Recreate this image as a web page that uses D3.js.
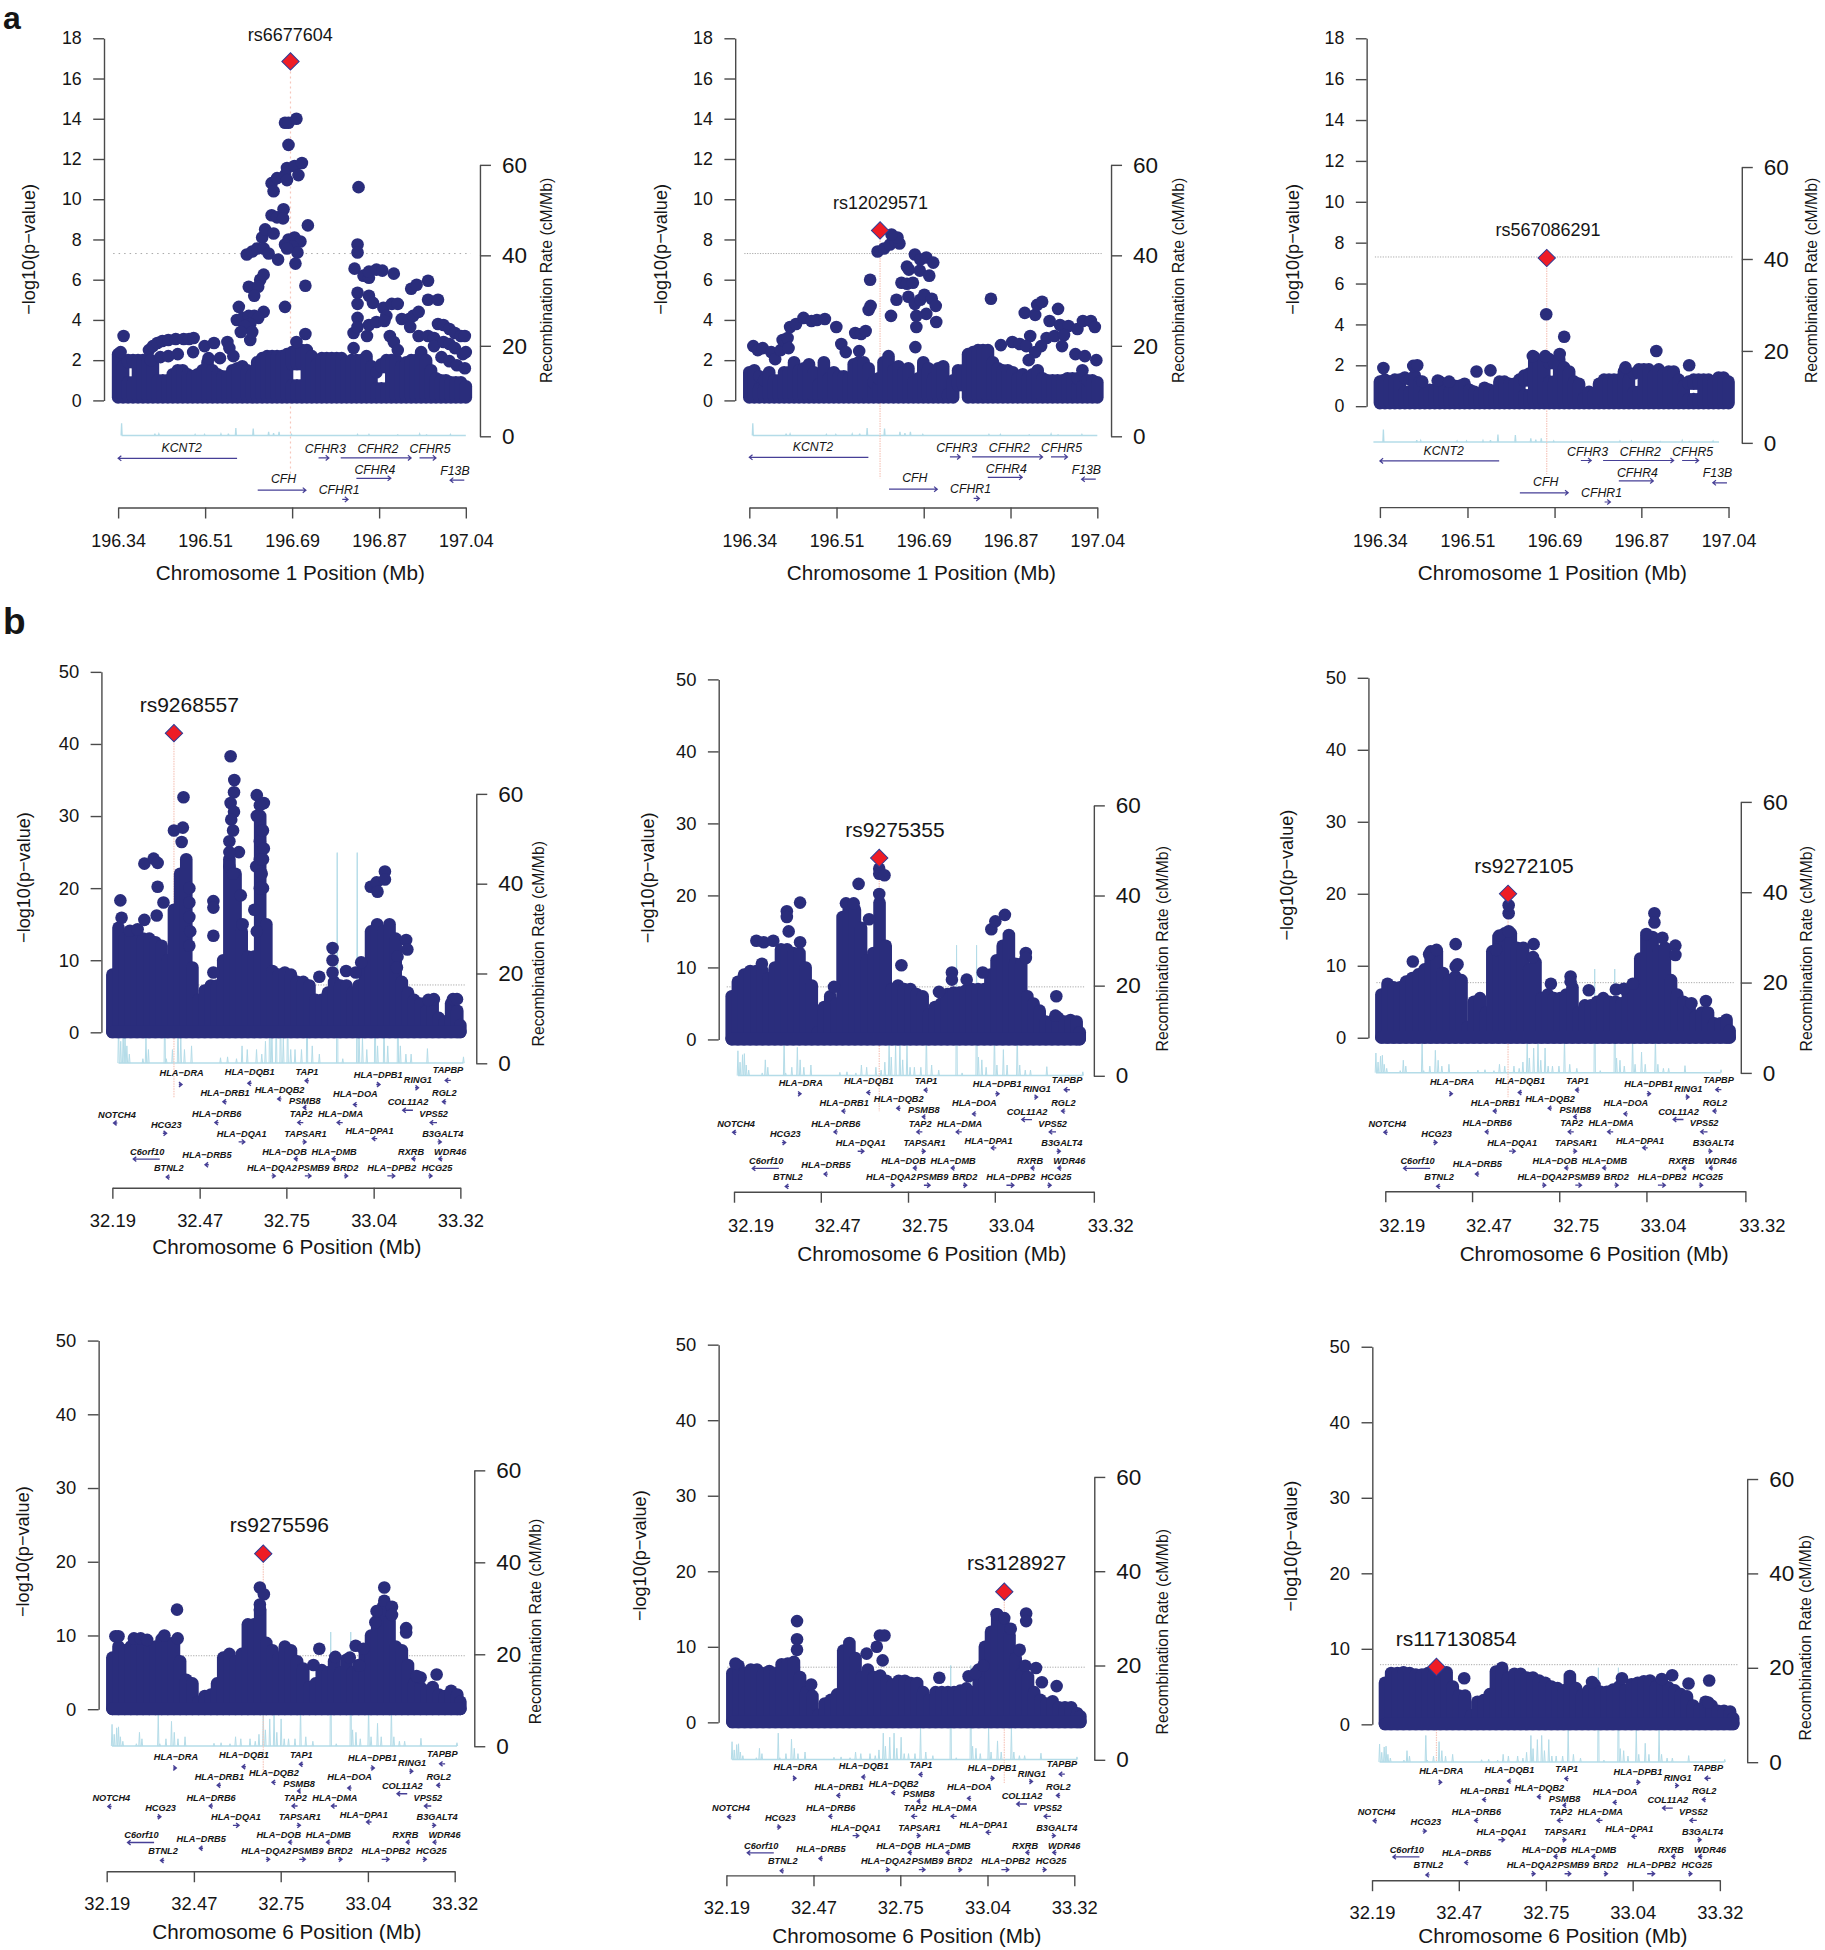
<!DOCTYPE html>
<html><head><meta charset="utf-8">
<script src="https://d3js.org/d3.v7.min.js"></script>
<style>html,body{margin:0;background:#fff}svg{display:block}text{font-family:"Liberation Sans",Arial,sans-serif;fill:#151515}</style>
</head><body><div id="c"></div>
<script>
// ---------- categorical / tick data ----------
const tickMbA=[196.34,196.51,196.69,196.87,197.04];
const tickMbB=[32.19,32.47,32.75,33.04,33.32];
const tickLogPA=[0,2,4,6,8,10,12,14,16,18];
const tickLogPB=[0,10,20,30,40,50];
const tickRecomb=[0,20,40,60];

// ---------- grid of genome positions where the solid band was read ----------
const gridA=[196.34,196.35,196.36,196.37,196.38,196.39,196.40,196.41,196.42,196.43,196.44,196.45,196.46,196.47,196.48,196.49,196.50,196.51,196.52,196.53,196.54,196.55,196.56,196.57,196.58,196.59,196.60,196.61,196.62,196.63,196.64,196.65,196.66,196.67,196.68,196.69,196.70,196.71,196.72,196.73,196.74,196.75,196.76,196.77,196.78,196.79,196.80,196.81,196.82,196.83,196.84,196.85,196.86,196.87,196.88,196.89,196.90,196.91,196.92,196.93,196.94,196.95,196.96,196.97,196.98,196.99,197.00,197.01,197.02,197.03,197.04];
const gridB=[32.19,32.21,32.23,32.25,32.27,32.29,32.31,32.33,32.35,32.37,32.39,32.41,32.43,32.45,32.47,32.49,32.51,32.53,32.55,32.57,32.59,32.61,32.63,32.65,32.67,32.69,32.71,32.73,32.75,32.77,32.79,32.81,32.83,32.85,32.87,32.89,32.91,32.93,32.95,32.97,32.99,33.01,33.03,33.05,33.07,33.09,33.11,33.13,33.15,33.17,33.19,33.21,33.23,33.25,33.27,33.29,33.31,33.32];

// ---------- top of the solid band per panel (-log10 p) ----------
const bandA1=[2.3,1.7,2,2,2,2,2,1.8,1,1,1,1.3,1.5,1.5,1.3,1.2,1.3,1.5,1.9,1.5,1.3,1.2,1.2,1.5,1.6,1.7,1.5,1.3,1.9,2.1,2.2,2.2,2.2,2.2,2.3,2.4,2.5,2.5,2.5,2.2,1.8,2.1,2.1,2.1,2.1,2.1,1.9,2,2,2,2.2,1.7,1.4,1.8,2,2,2,1.7,1.9,2,2,2.4,2,1.5,1.1,1,1,.9,.9,.9,.7];
const bandA2=[1.4,1.5,1.2,1,1.4,1,1,1.4,1.4,1.9,1.5,1.6,1.8,1.4,.8,1.9,1.1,1.4,1.2,1.2,1.1,1.8,1.9,1.9,1.6,.9,1.1,1.9,2.2,1.5,1.7,1.4,1.6,.9,1.1,1.9,1.6,1.1,1.6,1.7,.3,1,1.5,1.5,2.3,2.4,2.5,2.5,2.5,1.9,1.6,1.5,1.5,1.4,1.1,1.3,1.1,1.3,1.5,1.1,1,1,1,1,1.1,1.1,1.1,1.5,1,1,.9];
const bandA3=[1.2,1.3,1.2,1.3,1.3,1.4,1.3,1.5,1.2,.6,.8,.8,1.2,1,.7,1,1,1.1,.8,.7,.6,.9,.8,.6,1.2,1.2,1.1,1.1,1.3,1.5,1.6,2.4,2.2,2.3,2.3,2.2,2.3,1.9,1.7,1.2,1.1,.4,.7,.6,1.1,1.3,1.3,1.3,1.3,1.7,1.3,1.6,1.8,1.8,1.8,1.5,1.8,1.6,1.7,1.7,1.3,1,1.2,1.3,1.3,1.3,1.3,1.2,1.4,1.4,1.2];
const bandB1=[8,14.5,13,13.5,13.5,13,13,12.5,12,10,17,22,24,9,4.5,5.8,6.5,6.5,10,24,22,14,10.5,10.5,30,15,8.5,8,8.3,8,7,7,6.5,4.5,4.5,5.5,7,6.5,6.5,5.5,6.5,9,14,15,14,15,13,7,5.5,4.5,4,3,4,2,1.5,4,3,1];
const bandB2=[6,8,9,9.5,9.5,9.5,8.5,10,12.5,12.5,12,12,10,7.5,1,4.5,6,5,17,18,18,15.5,11,12,19,13,7,7.5,7,7,6.3,6,3.5,4.5,5,6.3,6.5,6.5,6.8,7,7,7,9,11,13,14.5,10.5,10.5,6,5,4,2.5,2.5,3,2.5,2.7,2.5,1];
const bandB3=[6,7.5,7,7,7.8,8.3,8.8,9.5,12,12,9,8,8.5,8,1.5,5,5.5,3.5,12,14,14.5,14.5,12.5,12.5,9.5,10.5,5.5,6,5.5,5.5,6,7,3.5,4.5,4.5,5,5.5,5,5,4.8,6,7,11,14,14,12,12.5,8,6,5,4,3,3.5,3.5,2,2,2.5,1];
const bandB4=[7,8.5,8,8.5,8.5,8.5,8.5,8.5,9.5,9,9,6.5,4,3.5,1,1.8,2,3.5,7,7.5,6.5,7.5,11.5,11.5,13.5,9,8,7,8.5,8,6.5,5.5,3,3.5,5.3,5,6.5,5,6.7,5,6,7.5,10,12,14,12,8.5,8,6,3.5,3,2.5,3,2,1.8,2.5,2,1];
const bandB5=[6.5,7.5,6.5,7,7,6.5,6.8,6.5,7.7,7.8,8,6,4,3.5,1,2.5,3,3.7,9.5,10.5,8.5,6,7,6,6.2,5.5,5,5.5,5.5,5.2,5.2,4,3,4,4,4,4,4.2,4.5,4,7,10,12,14.3,13.5,11.5,8.5,6.5,6,4,3,2.5,2.8,2,2,2,1.2,.8];
const bandB6=[5.5,6.8,6.8,6.9,6.8,6.6,6.6,6.8,6.9,7,6.9,5,3.8,3.8,1.2,3,3.2,4,7,7.5,6.2,6.7,6.7,6.2,6.2,5.8,5.5,5,4.8,4.5,6.4,4.8,3.9,4.5,5.2,4.3,4.3,4.6,5,4.5,5.3,5.5,5.7,5.8,5,5.5,4.9,4.5,4,3.7,2.5,2,3,2.5,1.8,1.8,1.7,.8];

// ---------- white gaps in the band [fromMb, toMb, lowLogP, highLogP] ----------
const gapsA1=[[196.36,196.37,.9,1.9],[196.69,196.71,.75,1.8],[196.86,196.88,.6,1.65]];
const gapsA2=[[196.36,196.37,.6,1.2],[196.59,196.6,.75,1.55],[196.76,196.77,-1,.75],[197,197.02,.7,1.5]];
const gapsA3=[[196.39,196.4,.7,1.4],[196.63,196.64,.55,1.25],[196.68,196.69,1.2,2.1],[196.85,196.86,.7,1.65],[196.96,196.98,.35,1.1]];

// ---------- individually visible SNPs [Mb, -log10 p] ----------
const snpsA1=[[196.351,3.2],[196.345,2.4],[196.402,2.5],[196.41,2.7],[196.419,2.85],[196.429,2.95],[196.441,3],[196.456,3.05],[196.472,3.05],[196.483,3.05],[196.492,3.1],[196.406,2],[196.425,2.15],[196.441,2.2],[196.46,2.3],[196.491,2.4],[196.514,2.7],[196.533,2.85],[196.56,2.9],[196.564,2.6],[196.572,2.2],[196.545,2.1],[196.522,2.1],[196.583,4.65],[196.606,3],[196.579,4],[196.591,4.1],[196.603,4.2],[196.614,4.2],[196.633,4.4],[196.622,4.1],[196.606,3.8],[196.595,3.7],[196.61,3.4],[196.587,3.4],[196.599,7.25],[196.61,7.4],[196.62,7.55],[196.63,8.1],[196.636,8.5],[196.653,8.3],[196.633,7.55],[196.643,7.3],[196.662,7],[196.603,5.65],[196.626,6],[196.633,6.25],[196.622,5.65],[196.614,5.2],[196.676,4.65],[196.649,10.8],[196.66,11.05],[196.676,11.2],[196.68,11.55],[196.695,11.65],[196.71,11.8],[196.703,11.2],[196.653,10.4],[196.68,10.95],[196.676,13.8],[196.683,13.8],[196.699,14],[196.683,12.7],[196.649,9.2],[196.66,9.1],[196.673,9.5],[196.672,9.05],[196.722,8.7],[196.683,8],[196.695,8.1],[196.707,7.9],[196.676,7.75],[196.691,7.65],[196.701,7.35],[196.68,7.55],[196.697,6.8],[196.717,5.7],[196.717,3.3],[196.699,2.9],[196.824,10.6],[196.822,7.75],[196.822,7.35],[196.816,6.55],[196.834,6.2],[196.845,6.1],[196.845,6.4],[196.86,6.5],[196.872,6.45],[196.895,6.3],[196.822,5.35],[196.822,4.8],[196.845,5.2],[196.853,4.85],[196.874,4.6],[196.891,4.8],[196.903,4.8],[196.88,4.2],[196.822,4.1],[196.814,3.35],[196.822,3.65],[196.814,2.6],[196.841,3.2],[196.845,3.75],[196.86,3.9],[196.876,3.95],[196.887,3.2],[196.895,2.9],[196.903,2.5],[196.911,4.05],[196.926,4.05],[196.934,4.2],[196.945,4.4],[196.928,3.65],[196.93,5.55],[196.941,5.75],[196.964,5.95],[196.964,5],[196.984,5],[196.945,3.2],[196.964,3.2],[196.976,3.1],[196.984,3.8],[196.995,3.75],[197.007,3.55],[197.018,3.35],[197.03,3.2],[197.038,3.2],[196.976,2.7],[196.995,2.9],[197.007,2.8],[197.018,2.6],[197.034,2.3],[197.04,2.4],[196.991,2.15],[197.007,1.95],[197.022,1.75],[197.038,1.6]];
const snpsA2=[[196.348,2.7],[196.357,2.5],[196.367,2.6],[196.384,2.4],[196.392,2.05],[196.403,2.5],[196.407,3],[196.417,3.1],[196.419,2.6],[196.422,3.65],[196.434,3.8],[196.449,4.1],[196.465,3.95],[196.476,4],[196.492,4.05],[196.515,3.65],[196.525,2.8],[196.534,2.4],[196.561,2.45],[196.553,3.35],[196.565,3.3],[196.574,3.45],[196.58,4.5],[196.584,4.7],[196.583,6],[196.598,7.4],[196.611,7.55],[196.623,7.75],[196.634,7.9],[196.642,7.8],[196.638,8.1],[196.626,8.25],[196.625,4.2],[196.636,5],[196.657,6.65],[196.661,6.5],[196.673,7.25],[196.684,7],[196.696,7.1],[196.71,6.85],[196.683,6.45],[196.702,6.2],[196.646,5.85],[196.657,5.8],[196.669,5.85],[196.66,5.15],[196.673,4.8],[196.684,5],[196.692,5.25],[196.707,5.05],[196.715,4.7],[196.696,4.3],[196.676,4.2],[196.716,3.9],[196.676,3.65],[196.674,2.65],[196.826,5.05],[196.894,4.35],[196.915,4.25],[196.919,4.75],[196.929,4.9],[196.961,4.55],[196.944,3.95],[196.965,3.75],[196.982,3.7],[197,3.55],[197.011,3.95],[197.027,3.95],[197.035,3.65],[196.905,3.2],[196.938,3.1],[196.954,3.2],[196.973,3.25],[196.969,2.7],[196.869,2.9],[196.884,2.8],[196.897,2.7],[196.927,2.7],[196.915,2.4],[196.902,2],[196.846,2.75],[196.996,2.3],[197.015,2.2],[197.038,2]];
const snpsA3=[[196.674,4.5],[196.71,3.4],[196.895,2.7],[196.347,1.87],[196.407,1.97],[196.415,2],[196.425,1.2],[196.456,1.25],[196.479,1.2],[196.534,1.7],[196.562,1.75],[196.961,2],[196.647,2.45],[196.672,2.45],[196.701,2.55],[196.833,1.9]];
const snpsB1=[[32.216,18.3],[32.22,15.9],[32.294,23.4],[32.324,24.1],[32.337,23.5],[32.337,20.2],[32.294,15.6],[32.334,16.2],[32.356,18],[32.39,28],[32.419,28.4],[32.421,32.6],[32.415,26.4],[32.44,20],[32.44,18],[32.44,16],[32.443,14],[32.44,12],[32.247,14.1],[32.272,14.3],[32.518,18.2],[32.518,17.3],[32.518,13.4],[32.518,8.3],[32.574,38.3],[32.586,35],[32.585,33.3],[32.574,31.8],[32.585,30.6],[32.576,29.5],[32.582,28],[32.57,26.5],[32.601,25],[32.57,25],[32.57,23],[32.582,22],[32.607,19],[32.613,15],[32.659,32.9],[32.682,31.8],[32.669,31.5],[32.659,30],[32.675,28],[32.669,26.5],[32.682,25.5],[32.657,23],[32.669,24],[32.675,22],[32.679,28],[32.679,24],[32.679,20],[32.669,20],[32.651,17],[32.659,14],[32.905,11.7],[32.905,10],[32.905,8.3],[32.862,7.7],[32.949,8.5],[32.98,8.3],[32.998,9.7],[33.029,20.2],[33.048,20.8],[33.051,19.5],[33.075,22.3],[33.075,21.2],[33.144,12.8],[33.148,11.5],[33.116,10.5],[33.114,9],[33.234,4.6],[33.216,4.5],[33.296,4.6],[33.309,4.6]];
const snpsB2=[[32.27,13.7],[32.294,13.5],[32.288,10.5],[32.325,13.7],[32.369,17.8],[32.369,17],[32.375,15],[32.412,19],[32.412,13.5],[32.522,7.3],[32.561,18.9],[32.586,18.9],[32.602,21.6],[32.636,16.7],[32.669,23.7],[32.669,23],[32.686,22.8],[32.669,20.2],[32.741,10.3],[32.863,6.6],[32.905,9.3],[32.905,8.3],[32.953,8.3],[33.005,9.3],[33.033,15.3],[33.046,16.4],[33.077,17.3],[33.145,12],[33.145,11.3],[33.244,6],[33.241,3.3]];
const snpsB3=[[32.292,10.6],[32.345,11.6],[32.369,12.2],[32.431,9.9],[32.437,10.2],[32.431,13],[32.562,12.2],[32.573,14.2],[32.603,14.8],[32.603,17.3],[32.603,18.4],[32.684,13],[32.682,11.2],[32.74,7.5],[32.804,8.5],[32.804,7.8],[32.863,6.6],[32.951,6.7],[32.977,6.8],[33.006,7.5],[33.05,14.4],[33.076,17.3],[33.076,16],[33.102,13.9],[33.144,12.8],[33.144,11.5],[33.196,4.8],[33.243,5.1]];
const snpsB4=[[32.2,9.9],[32.21,9.9],[32.26,9.6],[32.282,9.6],[32.303,9.4],[32.359,10],[32.4,13.5],[32.402,9.6],[32.669,16.5],[32.682,15.6],[32.669,14.2],[32.669,13.5],[32.843,6],[32.862,8.2],[32.914,7.1],[32.961,7],[32.98,8.6],[32.992,5.9],[33.005,8.2],[33.044,11.8],[33.048,13.3],[33.073,16.5],[33.073,14.7],[33.098,13.9],[33.098,12.8],[33.144,11],[33.144,10.4],[33.191,4.3],[33.178,4.5],[33.243,4.7]];
const snpsB5=[[32.2,7.8],[32.4,13.4],[32.4,11],[32.4,9.6],[32.446,5],[32.626,9.1],[32.659,10],[32.669,11.5],[32.684,11.5],[32.678,8.2],[32.862,5.9],[32.957,6.1],[32.98,6.5],[33.005,7.5],[33.048,14.3],[33.073,13.8],[33.094,12.4],[33.123,9.6],[33.141,7.5],[33.144,14.4],[33.144,13.4],[33.176,7.2],[33.195,5.3],[33.243,4.8]];
const snpsB6=[[32.447,6.1],[32.862,5.6],[32.959,6.1],[33.122,6.5],[33.088,6],[33.175,5.4],[33.242,5.8],[33.239,2.9]];

// ---------- lead SNPs ----------
const leadNames=["rs6677604","rs12029571","rs567086291","rs9268557","rs9275355","rs9272105","rs9275596","rs3128927","rs117130854"];
const leadMb=[196.687,196.603,196.675,32.39,32.669,32.601,32.68,33.073,32.357];
const leadLogP=[16.85,8.45,7.25,41.5,25.2,20,21.1,17.3,7.6];
const thresholdLogP=[7.3,7.3,7.3,6.57,7.3,7.65,7.25,7.3,7.9];

// ---------- recombination spikes ----------
const recombPosA=[196.347,196.414,196.422,196.495,196.514,196.547,196.562,196.577,196.612,196.643,196.653,196.664,196.689,196.822,196.845,196.903,196.947,196.961,197.009];
const recombRateA=[2.9,.6,.5,.4,.4,.5,.6,1.8,1.7,1,.7,1,.4,.4,.4,.3,.5,.3,.4];
const recombPosB=[32.19,32.197,32.205,32.211,32.217,32.225,32.269,32.279,32.287,32.34,32.345,32.365,32.383,32.392,32.404,32.427,32.521,32.544,32.573,32.591,32.608,32.638,32.655,32.667,32.681,32.688,32.702,32.716,32.725,32.739,32.749,32.763,32.784,32.802,32.819,32.842,32.9,32.918,32.965,32.971,32.982,32.996,33.023,33.031,33.052,33.064,33.097,33.105,33.123,33.14,33.193,33.31];
const recombRateB=[4.4,2.4,3.7,3.9,1.9,1,.5,2.8,1.5,6.5,.5,1.5,5,2.8,1.5,1.9,.6,.7,.5,1.9,1.5,1.5,1,2.4,6.5,3.3,5.5,6.5,2.8,5.5,1.5,1.5,1.5,8,1.9,1,23,.5,23,3.3,2.8,1.5,8,1.9,4.6,1.9,8,1.9,1,1,1.6,.7];

// ---------- genes ----------
const geneNamesA=["KCNT2","CFHR3","CFHR2","CFHR5","CFHR4","F13B","CFH","CFHR1"];
const geneFromA=[196.5795,196.7435,196.7881,196.9468,196.8197,197.0369,196.621,196.7912];
const geneToA=[196.34,196.7643,196.9298,196.9799,196.889,197.0084,196.7181,196.8028];
const geneLabelMbA=[196.468,196.757,196.863,196.968,196.857,197.018,196.673,196.785];
const geneNamesB=["HLA−DRA","HLA−DQB1","TAP1","HLA−DPB1","TAPBP","RING1","HLA−DRB1","HLA−DQB2","PSMB8","HLA−DOA","RGL2","COL11A2","NOTCH4","HLA−DRB6","TAP2","HLA−DMA","VPS52","HCG23","HLA−DPA1","HLA−DQA1","TAPSAR1","B3GALT4","C6orf10","HLA−DOB","HLA−DMB","RXRB","WDR46","HLA−DRB5","BTNL2","HLA−DQA2","PSMB9","BRD2","HLA−DPB2","HCG25"];
const geneFromB=[32.406,32.642,32.828,33.047,33.289,33.173,32.561,32.739,32.82,32.985,33.274,33.166,32.206,32.535,32.81,32.938,33.244,32.354,33.05,32.6,32.807,33.246,32.344,32.793,32.916,33.175,33.262,32.503,32.377,32.707,32.815,32.942,33.083,33.216];
const geneToB=[32.416,32.63,32.816,33.059,33.271,33.184,32.549,32.727,32.81,32.973,33.262,33.133,32.194,32.523,32.792,32.92,33.222,32.366,33.034,32.62,32.819,33.258,32.258,32.781,32.904,33.163,33.25,32.491,32.365,32.719,32.835,32.954,33.107,33.228];
const geneLabelMbB=[32.415,32.636,32.822,33.053,33.28,33.182,32.556,32.733,32.815,32.979,33.268,33.15,32.205,32.529,32.803,32.931,33.233,32.365,33.025,32.61,32.817,33.263,32.303,32.749,32.91,33.16,33.287,32.497,32.373,32.708,32.843,32.948,33.097,33.244];

// ---------- layout only (pixels) ----------
const laneLabelA=[-59.6,-58.5,-58.5,-58.5,-37.7,-36.9,-28.5,-17.3];
const laneArrowA=[-49.2,-49.6,-49.6,-49.6,-29.2,-27.3,-17.3,-8.1];
const laneLabelB=[-114.8,-116,-116.4,-113.5,-117.6,-108.2,-94.7,-98,-87.3,-94.3,-94.7,-85.7,-73.4,-73.8,-73.8,-73.8,-73.8,-63.5,-56.6,-54.1,-54.1,-54.1,-36.1,-36.1,-36.1,-36.1,-36.1,-32.8,-20.5,-20.5,-20.5,-20.5,-20.5,-20.5];
const laneArrowB=[-103.3,-104.5,-107,-103.3,-107.4,-100,-86,-88.9,-80.3,-83.2,-86,-77.5,-64.8,-65.2,-65.2,-65.2,-65.2,-54.5,-49.2,-45.9,-45.9,-45.9,-28.7,-29.1,-29.1,-29.1,-29.1,-23,-10.7,-11.9,-11.9,-11.9,-11.9,-11.9];

const panels=[
 {k:"A",crop:[0,0,.9943,.9943],band:bandA1,gaps:gapsA1,snps:snpsA1,i:0,plot:[118.8,468.5],ticks:[118.8,206.3,293.8,381.3,468.5],yAxisX:104.6,yTop:38.5,y0:402.7,xAxisY:510.4,tickLabelY:544,titleX:292,titleY:576,chr:1,recX:482.7,rec60:165.8,rec0:438.8,leftX:28.8,leftY:250.8,rightX:549.2,rightY:282,snpX:292,snpY:34.6,vEnd:477,geneDx:0,geneDy:0,recDx:0,gain:1,labelDx:0,recSpan:[196.347,197.04]},
 {k:"A",crop:[630,0,.9943,.9943],band:bandA2,gaps:gapsA2,snps:snpsA2,i:1,plot:[750,1100],ticks:[750,837.7,925.4,1012.7,1100],yAxisX:735.8,yTop:38.5,y0:402.7,xAxisY:510.4,tickLabelY:544,titleX:923,titleY:576,chr:1,recX:1113.8,rec60:165.8,rec0:438.8,leftX:660.8,leftY:250.8,rightX:1182,rightY:282,snpX:882,snpY:203.8,vEnd:481,geneDx:0,geneDy:-1,recDx:0,gain:1,labelDx:0,recSpan:[196.347,197.04]},
 {k:"A",crop:[1260,0,.9975,.9943],band:bandA3,gaps:gapsA3,snps:snpsA3,i:2,plot:[1380.2,1729.7],ticks:[1380.2,1468,1555.3,1642.3,1729.7],yAxisX:1366.9,yTop:38.5,y0:408.5,xAxisY:510,tickLabelY:544,titleX:1553,titleY:576,chr:1,recX:1743,rec60:168,rec0:445.4,leftX:1292.5,leftY:250.8,rightX:1812.4,rightY:282,snpX:1548.8,snpY:231.5,vEnd:477,geneDx:0,geneDy:3,recDx:0,gain:1,labelDx:0,recSpan:[196.327,197.021]},
 {k:"B",crop:[0,640,.9943,.996],band:bandB1,gaps:[],snps:snpsB1,i:3,plot:[113,463],ticks:[113,200.8,288,375.8,463],yAxisX:102,yTop:672,y0:1033.9,xAxisY:1190,tickLabelY:1223,titleX:288.5,titleY:1249.4,chr:6,recX:479,rec60:794.5,rec0:1065,leftX:24,leftY:878.5,rightX:541.5,rightY:945,snpX:190.4,snpY:704.8,vEnd:1099,geneDx:0,geneDy:0,recDx:6.2,gain:2.04,labelDx:0,recSpan:[32.19,33.31]},
 {k:"B",crop:[630,650,.9943,.996],band:bandB2,gaps:[],snps:snpsB2,i:4,plot:[732.3,1082.3],ticks:[734.6,821.9,909.6,996.9,1096.5],yAxisX:719.2,yTop:679.5,y0:1041,xAxisY:1193.9,tickLabelY:1227.9,titleX:933.5,titleY:1256.6,chr:6,recX:1096.5,rec60:806,rec0:1077.5,leftX:647.3,leftY:878.7,rightX:1165.8,rightY:950,snpX:896.5,snpY:830.3,vEnd:1113,geneDx:-.3,geneDy:5.4,recDx:6.2,gain:1.26,labelDx:16.5,recSpan:[32.19,33.31]},
 {k:"B",crop:[1260,650,.9975,.996],band:bandB3,gaps:[],snps:snpsB3,i:5,plot:[1381.7,1730.8],ticks:[1385.6,1472.6,1560,1647.4,1746.6],yAxisX:1368.7,yTop:677.9,y0:1039.3,xAxisY:1193.4,tickLabelY:1228,titleX:1595,titleY:1256.6,chr:6,recX:1742,rec60:802.5,rec0:1074.6,leftX:1287,leftY:876,rightX:1808,rightY:950,snpX:1524.6,snpY:866.4,vEnd:1099,geneDx:1.3,geneDy:5.8,recDx:-5.5,gain:1,labelDx:16.5,recSpan:[32.19,33.31]},
 {k:"B",crop:[0,1310,.9943,.996],band:bandB4,gaps:[],snps:snpsB4,i:6,plot:[113,463],ticks:[107.3,195,282.3,370,457.3],yAxisX:99.2,yTop:1340.7,y0:1710.8,xAxisY:1873.5,tickLabelY:1906,titleX:288.5,titleY:1934,chr:6,recX:477,rec60:1471,rec0:1748,leftX:23,leftY:1552.6,rightX:538.5,rightY:1622.7,snpX:281,snpY:1526,vEnd:1773,geneDx:-5.7,geneDy:0,recDx:-.3,gain:1.08,labelDx:0,recSpan:[32.19,33.31]},
 {k:"B",crop:[620,1310,.9943,.996],band:bandB5,gaps:[],snps:snpsB5,i:7,plot:[733,1083],ticks:[727,814.6,901.9,989.6,1076.9],yAxisX:719.2,yTop:1344.8,y0:1724,xAxisY:1877.6,tickLabelY:1910.4,titleX:908.5,titleY:1937.9,chr:6,recX:1097,rec60:1477.6,rec0:1761.6,leftX:640,leftY:1556.7,rightX:1166,rightY:1633,snpX:1018.8,snpY:1564,vEnd:1785,geneDx:-6,geneDy:6.2,recDx:-.3,gain:.87,labelDx:0,recSpan:[32.19,33.31]},
 {k:"B",crop:[1260,1310,.9975,.996],band:bandB6,gaps:[],snps:snpsB6,i:8,plot:[1385.3,1734.4],ticks:[1372.3,1459.3,1546.6,1633.6,1721],yAxisX:1372.6,yTop:1346.9,y0:1726,xAxisY:1882.5,tickLabelY:1915.3,titleX:1553.5,titleY:1937.9,chr:6,recX:1748.4,rec60:1479.7,rec0:1764,leftX:1290.7,leftY:1547,rightX:1807,rightY:1639,snpX:1456.7,snpY:1640.3,vEnd:1763,geneDx:-13,geneDy:5.4,recDx:-5.4,gain:.87,labelDx:0,recSpan:[32.19,33.31]}
];
// layout numbers above were measured in crops; bring them to page pixels
panels.forEach(p=>{
  const [cx,cy,fx,fy]=p.crop, X=v=>cx+(v-cx)*fx, Y=v=>cy+(v-cy)*fy;
  p.plot=p.plot.map(X);p.ticks=p.ticks.map(X);
  ["yAxisX","titleX","recX","leftX","rightX","snpX"].forEach(k=>p[k]=X(p[k]));
  ["yTop","y0","xAxisY","tickLabelY","titleY","rec60","rec0","leftY","rightY","snpY","vEnd"].forEach(k=>p[k]=Y(p[k]));
});

const NAVY="#2a2d7c", AXIS="#4a4a4a", DOT_R=6.3, LBLUE="#b4dce8", GENE="#463f96";
const svg=d3.select("#c").append("svg").attr("width",1825).attr("height",1950);
svg.append("text").attr("x",3).attr("y",29).attr("font-size",32).attr("font-weight","bold").text("a");
svg.append("text").attr("x",3).attr("y",634).attr("font-size",37).attr("font-weight","bold").text("b");

panels.forEach(p=>{
  const isA=p.k==="A";
  const tickMb=isA?tickMbA:tickMbB, yTicks=isA?tickLogPA:tickLogPB, yMax=isA?18:50;
  const x=d3.scaleLinear().domain([tickMb[0],tickMb[4]]).range(p.plot);
  const y=d3.scaleLinear().domain([0,yMax]).range([p.y0,p.yTop]);
  const rec=d3.scaleLinear().domain([0,60]).range([p.rec0,p.rec60]);
  const g=svg.append("g");

  // recombination trace (behind the SNPs)
  const rpos=isA?recombPosA:recombPosB, rrate=isA?recombRateA:recombRateB;
  const base=isA?.17:.05;
  const spikeW=isA?.001:.0022;
  const rline=d3.line().x(d=>x(d[0])+p.recDx).y(d=>rec(d[1]));
  const g1=g.append("g").attr("fill","none").attr("stroke",LBLUE).attr("stroke-width",isA?1.3:1);
  g1.append("path").attr("d",rline([[p.recSpan[0],base],[p.recSpan[1],base]])).attr("stroke-width",1.5);
  rpos.forEach((m,i)=>{
    g1.append("path").attr("d",rline([[m-spikeW,base],[m,rrate[i]*(isA?1:p.gain)],[m+spikeW,base]]));
  });

  // genome-wide threshold and lead-SNP guide
  const T=thresholdLogP[p.i];
  g.append("line").attr("x1",x.range()[0]-5).attr("x2",x.range()[1]+5).attr("y1",y(T)).attr("y2",y(T))
    .attr("stroke","#a9a9a9").attr("stroke-width",1).attr("stroke-dasharray",isA&&p.i===0?"1.5 4":"1.2 1.4");
  const lx=x(leadMb[p.i]), ly=y(leadLogP[p.i]);
  g.append("line").attr("x1",lx).attr("x2",lx).attr("y1",ly).attr("y2",p.vEnd)
    .attr("stroke","#f6c6bb").attr("stroke-width",1.2).attr("stroke-dasharray",p.i===0?"2 3":"1.5 1");

  // solid SNP band: one round-capped stem per grid position, split where the picture shows a white gap
  const grid=isA?gridA:gridB, lo=isA?.15:.05;
  const stems=[];
  d3.zip(grid,p.band).forEach(([m,top])=>{
    let cur=lo;
    p.gaps.filter(h=>m>=h[0]-1e-6&&m<=h[1]+1e-6&&h[2]<top).forEach(h=>{
      if(h[2]>cur) stems.push([m,cur,h[2]]);
      cur=h[3];
    });
    stems.push([m,Math.min(cur,top),top]);
  });
  const gs=g.append("g").attr("stroke",NAVY).attr("stroke-width",DOT_R*2).attr("stroke-linecap","round");
  gs.selectAll("line").data(stems).join("line")
    .attr("x1",d=>x(d[0])).attr("x2",d=>x(d[0])).attr("y1",d=>y(d[1])).attr("y2",d=>y(d[2]));
  if(!isA) gs.append("line").attr("x1",x(grid[0])).attr("x2",x(grid[grid.length-1])).attr("y1",y(lo)).attr("y2",y(lo));
  // individual SNPs
  g.append("g").attr("fill",NAVY).selectAll("circle").data(p.snps).join("circle")
    .attr("cx",d=>x(d[0])).attr("cy",d=>y(d[1])).attr("r",DOT_R);
  // lead SNP
  g.append("path").attr("d",d3.symbol(d3.symbolSquare,150)())
    .attr("transform",`translate(${lx},${ly}) rotate(45)`)
    .attr("fill","#ee1c25").attr("stroke","#2f3c96").attr("stroke-width",1);
  g.append("text").attr("x",p.snpX).attr("y",p.snpY).attr("dy",".35em").attr("text-anchor","middle")
    .attr("font-size",isA?18:21).text(leadNames[p.i]);

  // genes
  const names=isA?geneNamesA:geneNamesB, from=isA?geneFromA:geneFromB, to=isA?geneToA:geneToB,
        lab=isA?geneLabelMbA:geneLabelMbB, lL=isA?laneLabelA:laneLabelB, lA=isA?laneArrowA:laneArrowB;
  names.forEach((n,i)=>{
    const x1=x(from[i])+p.geneDx, x2=x(to[i])+p.geneDx, yy=p.xAxisY+lA[i]+p.geneDy;
    const dir=x2>x1?1:-1, h=isA?3.2:3;
    const pth=d3.path();
    pth.moveTo(x1,yy);pth.lineTo(x2,yy);
    pth.moveTo(x2-dir*h,yy-h*.8);pth.lineTo(x2,yy);pth.lineTo(x2-dir*h,yy+h*.8);
    g.append("path").attr("d",pth.toString()).attr("fill","none").attr("stroke",GENE).attr("stroke-width",isA?1.2:1.4);
    g.append("text").attr("x",x(lab[i])+p.geneDx).attr("y",p.xAxisY+lL[i]+p.geneDy).attr("dy",".35em")
      .attr("text-anchor","middle").attr("font-style","italic").attr("font-weight",isA?"normal":"bold")
      .attr("font-size",isA?12.3:9.2).text(n);
  });

  // axes
  const styleAxis=(sel)=>{sel.selectAll("path,line").attr("stroke",AXIS).attr("stroke-width",1.4);sel.selectAll("text").attr("fill","#151515").attr("font-family","Liberation Sans, Arial, sans-serif");};
  const yAx=g.append("g").attr("transform",`translate(${p.yAxisX},0)`)
    .call(d3.axisLeft(y).tickValues(yTicks).tickSize(10.8).tickSizeOuter(0).tickPadding(11.5).tickFormat(d3.format("d")));
  styleAxis(yAx);yAx.selectAll("text").attr("font-size",isA?17.8:18.4);
  const rAx=g.append("g").attr("transform",`translate(${p.recX},0)`)
    .call(d3.axisRight(rec).tickValues(tickRecomb).tickSize(11).tickSizeOuter(0).tickPadding(11).tickFormat(d3.format("d")));
  styleAxis(rAx);rAx.selectAll("text").attr("font-size",22.5);
  const xAxisScale=d3.scaleLinear().domain(tickMb).range(p.ticks);
  const xAx=g.append("g").attr("transform",`translate(0,${p.xAxisY})`)
    .call(d3.axisBottom(xAxisScale).tickValues(tickMb).tickSize(11).tickSizeOuter(0).tickFormat(d3.format(".2f")));
  styleAxis(xAx);
  xAx.selectAll("text").attr("font-size",isA?17.9:18.4).attr("y",p.tickLabelY-p.xAxisY).attr("dy",".35em").attr("x",p.labelDx);

  g.append("text").attr("x",p.titleX).attr("y",p.titleY).attr("dy",".35em").attr("text-anchor","middle")
    .attr("font-size",20.7).text(`Chromosome ${p.chr} Position (Mb)`);
  g.append("text").attr("transform",`translate(${p.leftX},${p.leftY}) rotate(-90)`).attr("dy",".35em")
    .attr("text-anchor","middle").attr("font-size",18.1).text("−log10(p−value)");
  g.append("text").attr("transform",`translate(${p.rightX},${p.rightY}) rotate(-90)`).attr("dy",".35em")
    .attr("text-anchor","middle").attr("font-size",15.8).text("Recombination Rate (cM/Mb)");
});
</script>
</body></html>
